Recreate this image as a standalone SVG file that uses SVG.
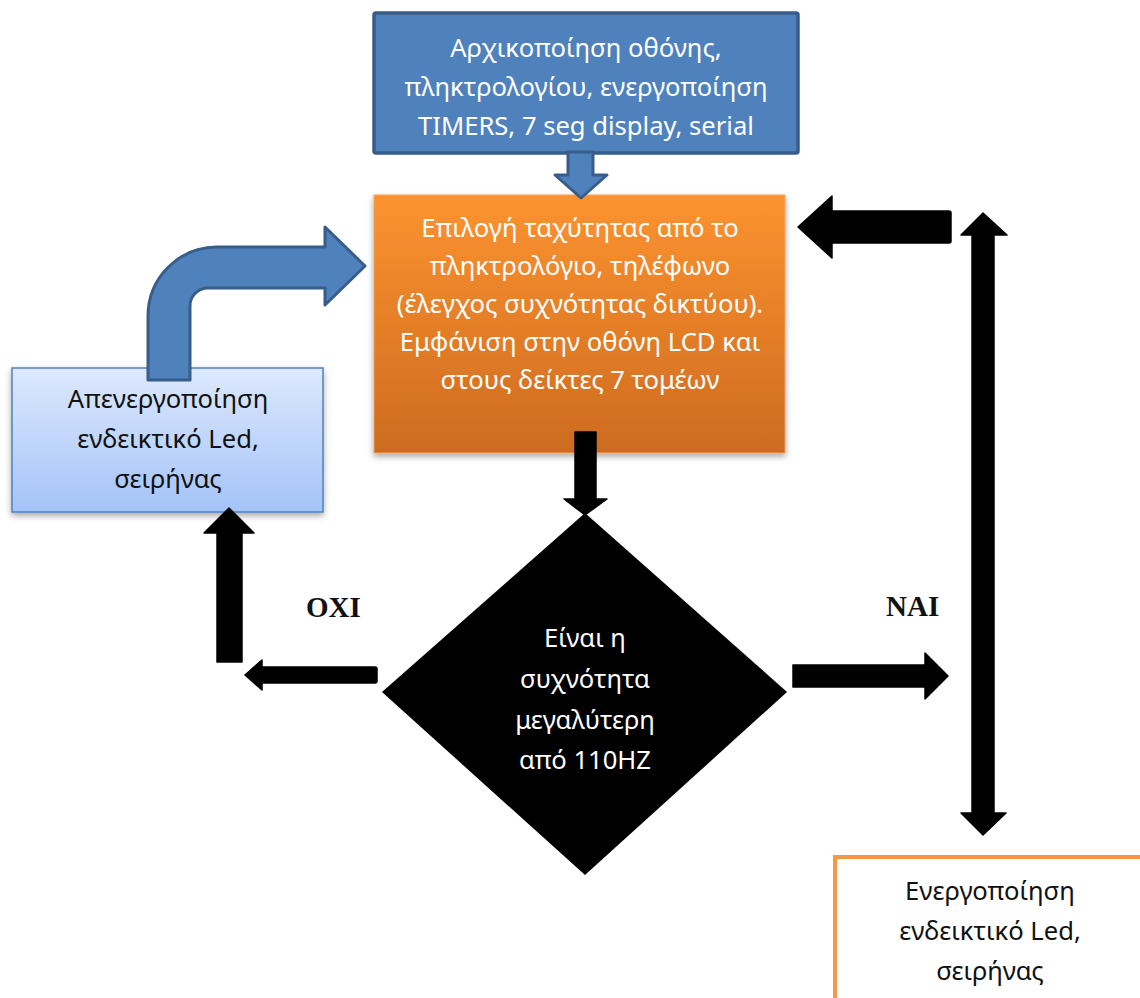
<svg xmlns="http://www.w3.org/2000/svg" width="1140" height="998" viewBox="0 0 1140 998">
  <defs>
    <linearGradient id="orangeFill" x1="0" y1="0" x2="0" y2="1">
      <stop offset="0" stop-color="#fc9330"/>
      <stop offset="1" stop-color="#cd6b20"/>
    </linearGradient>
    <linearGradient id="lightBlueFill" x1="0" y1="0" x2="0" y2="1">
      <stop offset="0" stop-color="#dde9fd"/>
      <stop offset="1" stop-color="#a4c3f8"/>
    </linearGradient>
    <filter id="shadow" x="-10%" y="-10%" width="120%" height="130%">
      <feDropShadow dx="0" dy="3" stdDeviation="3" flood-color="#000" flood-opacity="0.35"/>
    </filter>
  </defs>
  <style>
    .lbl { font-family: "Noto Sans", "Open Sans", sans-serif; font-size: 25.6px; text-anchor: middle; }
    .white { fill: #ffffff; }
    .dark { fill: #111111; }
    .yesno { font-family: "Liberation Serif", serif; font-weight: bold; font-size: 29px; fill: #111111; }
    .blueArrow { fill: #4f81bd; stroke: #385d8a; stroke-width: 3; stroke-linejoin: round; }
    .blackArrow { fill: #000000; stroke: #000000; stroke-width: 1.5; stroke-linejoin: round; }
  </style>

  <rect width="1140" height="998" fill="#ffffff"/>

  <!-- initialisation block -->
  <g id="init">
    <rect x="374" y="13" width="424" height="140" rx="2" fill="#4f81bd" stroke="#385d8a" stroke-width="3.5"/>
    <text class="lbl white" x="586" y="57">Αρχικοποίηση οθόνης,</text>
    <text class="lbl white" x="586" y="96">πληκτρολογίου, ενεργοποίηση</text>
    <text class="lbl white" x="586" y="135">TIMERS, 7 seg display, serial</text>
  </g>

  <!-- speed selection block -->
  <g id="select">
    <rect x="374" y="195" width="411" height="258" fill="url(#orangeFill)" stroke="#f7a15a" stroke-width="1" filter="url(#shadow)"/>
    <text class="lbl white" x="580" y="237">Επιλογή ταχύτητας από το</text>
    <text class="lbl white" x="580" y="275">πληκτρολόγιο, τηλέφωνο</text>
    <text class="lbl white" x="580" y="313">(έλεγχος συχνότητας δικτύου).</text>
    <text class="lbl white" x="580" y="351">Εμφάνιση στην οθόνη LCD και</text>
    <text class="lbl white" x="580" y="389">στους δείκτες 7 τομέων</text>
  </g>

  <!-- alarm off block -->
  <g id="alarmOff">
    <rect x="12" y="368" width="311" height="144" fill="url(#lightBlueFill)" stroke="#4f81bd" stroke-width="1.5" filter="url(#shadow)"/>
    <text class="lbl dark" x="168" y="408">Απενεργοποίηση</text>
    <text class="lbl dark" x="168" y="448">ενδεικτικό Led,</text>
    <text class="lbl dark" x="168" y="488">σειρήνας</text>
  </g>

  <!-- decision -->
  <g id="decision">
    <polygon points="585,513 787,692 585,875 382,692" fill="#000000"/>
    <text class="lbl white" x="585" y="647">Είναι η</text>
    <text class="lbl white" x="585" y="688">συχνότητα</text>
    <text class="lbl white" x="585" y="729">μεγαλύτερη</text>
    <text class="lbl white" x="585" y="769">από 110HZ</text>
  </g>

  <!-- alarm on block -->
  <g id="alarmOn">
    <rect x="835" y="857" width="320" height="160" fill="#ffffff" stroke="#f79646" stroke-width="4"/>
    <text class="lbl dark" x="990" y="900">Ενεργοποίηση</text>
    <text class="lbl dark" x="990" y="940">ενδεικτικό Led,</text>
    <text class="lbl dark" x="990" y="980">σειρήνας</text>
  </g>

  <!-- connectors -->
  <g id="connectors">
    <!-- init -> select -->
    <path class="blueArrow" d="M568,152 H593 V175 H607 L581,198 L555,175 H568 Z"/>
    <!-- alarm off -> select (bent) -->
    <path class="blueArrow" d="M148,380 V316 A69,69 0 0 1 217,247 H325 V227 L365,266 L325,305 V288 H208 A18,18 0 0 0 190,306 V380 Z"/>
    <!-- select -> decision -->
    <path class="blackArrow" d="M575,432 H596 V499 H607 L585,515 L564,499 H575 Z"/>
    <!-- decision NO -> left -->
    <path class="blackArrow" d="M377,669 V681 Q377,683 375,683 H262 V690 L245,675 L262,660 V667 H375 Q377,667 377,669 Z"/>
    <!-- up to alarm off -->
    <path class="blackArrow" d="M217,662 V533 H204 L229,508 L254,533 H242 V662 Z"/>
    <!-- decision YES -> right -->
    <path class="blackArrow" d="M793,665 H925 V653 L948,676 L925,699 V687 H793 Z"/>
    <!-- back to select -->
    <path class="blackArrow" d="M951,213 V241 Q951,243 949,243 H832 V258 L798,227 L832,196 V211 H949 Q951,211 951,213 Z"/>
    <!-- vertical double arrow -->
    <path class="blackArrow" d="M983,213 L1007,235 H994 V813 H1006 L983,835 L961,813 H972 V235 H961 Z"/>
    <text class="yesno" x="306" y="617">OXI</text>
    <text class="yesno" x="886" y="616">NAI</text>
  </g>
</svg>
